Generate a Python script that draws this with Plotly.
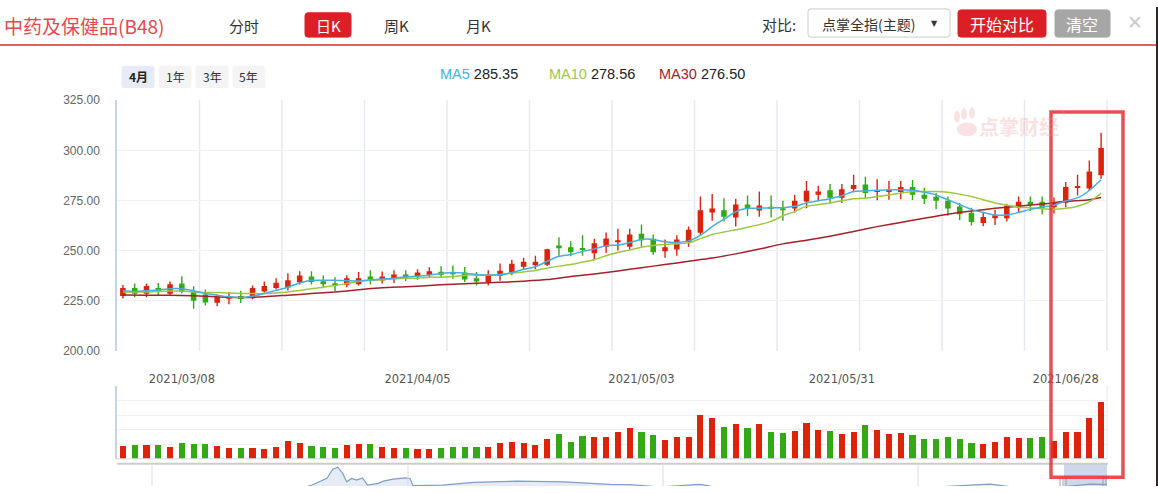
import plotly.graph_objects as go

W, H = 1158, 493
def X(px): return px / W
def Y(py): return 1 - py / H

RED = "#dd2309"
GREEN = "#33aa14"
C_MA5 = "#45b0dc"
C_MA10 = "#9cc843"
C_MA30 = "#a3222a"

dates = [
    "2021-03-01","2021-03-02","2021-03-03","2021-03-04","2021-03-05",
    "2021-03-08","2021-03-09","2021-03-10","2021-03-11","2021-03-12",
    "2021-03-15","2021-03-16","2021-03-17","2021-03-18","2021-03-19",
    "2021-03-22","2021-03-23","2021-03-24","2021-03-25","2021-03-26",
    "2021-03-29","2021-03-30","2021-03-31",
    "2021-04-01","2021-04-02","2021-04-06","2021-04-07","2021-04-08","2021-04-09",
    "2021-04-12","2021-04-13","2021-04-14","2021-04-15","2021-04-16",
    "2021-04-19","2021-04-20","2021-04-21","2021-04-22","2021-04-23",
    "2021-04-26","2021-04-27","2021-04-28","2021-04-29","2021-04-30",
    "2021-05-06","2021-05-07","2021-05-10","2021-05-11","2021-05-12","2021-05-13","2021-05-14",
    "2021-05-17","2021-05-18","2021-05-19","2021-05-20","2021-05-21",
    "2021-05-24","2021-05-25","2021-05-26","2021-05-27","2021-05-28","2021-05-31",
    "2021-06-01","2021-06-02","2021-06-03","2021-06-04",
    "2021-06-07","2021-06-08","2021-06-09","2021-06-10","2021-06-11",
    "2021-06-15","2021-06-16","2021-06-17","2021-06-18",
    "2021-06-21","2021-06-22","2021-06-23","2021-06-24","2021-06-25",
    "2021-06-28","2021-06-29","2021-06-30","2021-07-01",
]

open_ = [227.8, 231.0, 228.9, 231.0, 228.9, 233.3, 229.4, 227.8, 224.4, 226.4,
         227.0, 227.0, 230.0, 231.7, 232.0, 234.6, 236.8, 234.4, 233.4, 233.4,
         233.6, 236.8, 235.5, 236.5, 237.8, 237.5, 238.3, 239.2, 239.0, 238.8,
         235.9, 234.6, 237.8, 239.4, 242.3, 243.1, 243.3, 252.2, 251.4, 251.0,
         249.1, 252.3, 254.6, 252.3, 258.1, 255.6, 250.1, 250.9, 254.7, 259.3,
         269.4, 269.8, 266.9, 272.7, 270.4, 271.5, 270.8, 271.4, 274.9, 278.2,
         279.8, 276.7, 281.1, 282.7, 279.6, 279.6, 279.6, 281.4, 277.5, 276.5,
         274.6, 271.7, 268.6, 264.1, 266.5, 266.5, 271.9, 274.1, 274.0, 272.0,
         274.3, 281.6, 281.4, 287.9]
high = [232.9, 233.6, 233.6, 233.9, 234.6, 237.3, 232.3, 230.7, 228.1, 229.4,
        230.0, 232.6, 234.6, 236.3, 238.8, 239.7, 239.7, 237.8, 236.8, 237.8,
        239.4, 240.2, 239.6, 240.2, 240.2, 240.7, 241.7, 242.2, 242.6, 241.8,
        239.4, 240.2, 243.6, 245.5, 246.5, 247.5, 250.9, 256.7, 254.7, 257.7,
        256.0, 259.1, 260.9, 260.9, 263.0, 258.1, 255.6, 257.7, 262.0, 277.0,
        278.2, 276.2, 275.9, 277.5, 279.5, 277.5, 274.9, 277.8, 284.8, 282.4,
        283.3, 283.3, 287.9, 286.9, 285.6, 284.8, 284.8, 285.3, 281.4, 278.7,
        277.0, 273.8, 271.4, 269.4, 270.3, 273.3, 277.0, 277.0, 277.0, 276.5,
        284.3, 287.9, 295.0, 308.8]
low = [226.2, 226.8, 226.8, 227.8, 227.8, 228.6, 221.0, 222.6, 222.3, 223.3,
       223.9, 225.8, 229.1, 230.7, 230.2, 233.1, 233.1, 231.3, 229.7, 231.8,
       232.6, 233.1, 233.6, 233.9, 234.9, 235.5, 236.5, 236.5, 236.0, 234.4,
       232.6, 232.6, 235.0, 237.8, 240.4, 240.7, 242.3, 247.5, 247.2, 247.5,
       245.2, 248.8, 250.1, 250.4, 252.0, 248.0, 246.5, 247.5, 252.0, 257.7,
       264.9, 264.6, 262.0, 267.3, 266.9, 266.5, 264.9, 269.0, 271.1, 274.6,
       273.5, 273.8, 279.1, 276.2, 275.1, 275.4, 275.7, 275.3, 273.3, 270.6,
       267.4, 265.2, 262.6, 262.2, 262.8, 264.6, 269.3, 269.8, 268.2, 268.5,
       271.7, 277.5, 279.8, 285.9]
close = [231.0, 228.9, 232.0, 229.9, 232.9, 229.7, 225.4, 224.5, 226.6, 226.7,
         226.3, 231.0, 232.0, 233.6, 234.9, 237.3, 234.7, 233.6, 232.8, 235.9,
         235.9, 235.9, 236.8, 237.8, 237.0, 238.8, 239.4, 238.3, 238.6, 236.0,
         235.0, 237.8, 239.7, 243.1, 244.1, 244.1, 250.4, 251.6, 249.6, 250.7,
         253.3, 255.7, 254.9, 257.7, 255.6, 249.6, 251.4, 255.2, 260.1, 269.8,
         270.7, 267.3, 272.7, 271.1, 272.2, 271.2, 270.5, 274.6, 279.5, 279.1,
         276.7, 280.3, 282.4, 279.1, 279.8, 280.1, 281.4, 278.2, 276.2, 275.3,
         271.4, 268.5, 264.6, 266.5, 267.3, 272.0, 274.1, 273.3, 271.7, 273.8,
         281.4, 281.9, 289.1, 300.8]

volume = [0.89, 0.95, 0.95, 0.95, 0.82, 1.09, 1.02, 1.02, 0.89, 0.75,
          0.75, 0.75, 0.69, 0.82, 1.22, 1.09, 0.89, 0.82, 0.75, 0.95,
          1.02, 1.02, 0.82, 0.75, 0.75, 0.69, 0.69, 0.75, 0.82, 0.82,
          0.82, 0.82, 1.09, 1.15, 1.09, 0.95, 1.35, 1.69, 1.15, 1.55,
          1.49, 1.49, 1.82, 2.09, 1.82, 1.62, 1.27, 1.53, 1.47, 3.00,
          2.80, 2.20, 2.40, 2.13, 2.40, 1.87, 1.80, 1.93, 2.47, 2.00,
          1.93, 1.73, 1.87, 2.33, 2.00, 1.73, 1.80, 1.67, 1.33, 1.33,
          1.47, 1.33, 1.07, 1.00, 1.13, 1.47, 1.40, 1.40, 1.47, 1.20,
          1.87, 1.87, 2.80, 3.87]

ma5 = [230.0, 229.7, 230.0, 230.4, 231.0, 231.0, 230.0, 228.6, 227.8, 227.0,
       226.6, 227.3, 228.6, 230.2, 231.8, 233.9, 235.2, 235.2, 235.2, 235.0,
       234.9, 235.4, 235.9, 236.3, 237.0, 237.3, 237.8, 238.6, 239.1, 238.8,
       238.1, 237.8, 238.0, 239.1, 240.7, 242.0, 244.7, 247.2, 248.1, 249.6,
       250.9, 252.5, 252.8, 254.1, 255.6, 255.6, 254.4, 254.1, 254.9, 257.7,
       262.0, 265.7, 269.4, 271.1, 271.2, 271.4, 271.4, 272.1, 273.8, 274.9,
       275.9, 277.4, 279.5, 279.8, 280.1, 280.4, 280.4, 280.1, 279.1, 277.8,
       275.4, 273.0, 270.6, 269.0, 267.8, 267.8, 269.0, 270.6, 271.7, 272.7,
       274.8, 276.3, 280.0, 285.35]
ma10 = [229.4, 229.4, 229.4, 229.7, 229.9, 229.9, 229.4, 229.1, 229.1, 228.9,
        228.7, 228.6, 228.6, 228.9, 229.4, 230.2, 231.0, 231.8, 232.6, 233.6,
        234.6, 235.2, 235.5, 235.9, 236.2, 236.3, 236.8, 236.8, 237.1, 237.8,
        237.8, 237.8, 238.1, 238.8, 239.4, 240.1, 241.3, 242.3, 243.1, 244.3,
        245.5, 247.5, 249.1, 250.4, 251.7, 252.6, 253.1, 253.5, 253.9, 256.0,
        258.1, 259.3, 260.4, 261.7, 263.0, 264.6, 267.4, 269.5, 272.2, 273.0,
        273.8, 274.9, 275.9, 276.2, 277.0, 277.8, 278.7, 279.5, 279.5, 279.5,
        279.1, 278.2, 277.0, 275.4, 273.8, 272.7, 271.7, 271.4, 270.9, 270.6,
        271.1, 272.2, 274.3, 278.56]
ma30 = [227.9, None, 227.8, None, 227.8, None, 227.5, None, 227.0, None,
        226.6, None, 227.0, None, 227.8, None, 228.6, None, 229.4, None,
        230.5, None, 231.5, None, 232.0, None, 232.6, None, 233.3, None,
        233.8, None, 234.2, None, 234.8, None, 235.6, None, 237.1, None,
        238.4, None, 239.9, None, 241.5, None, 243.1, None, 244.7, None,
        246.3, None, 248.4, None, 250.8, None, 253.4, None, 255.2, None,
        257.2, None, 259.6, None, 262.0, None, 264.1, None, 266.2, None,
        268.2, None, 269.8, None, 271.1, None, 272.2, None, 273.3, None,
        274.6, None, 275.4, 276.5]

ma_labels = ["MA5", "MA10", "MA30"]
ma_last = ["285.35", "278.56", "276.50"]

tick_dates = ["2021-03-08", "2021-04-06", "2021-05-06", "2021-05-31", "2021-06-28"]
tick_text = ["2021/03/08", "2021/04/05", "2021/05/03", "2021/05/31", "2021/06/28"]

# navigator (long history overview), position 0-100 along the slider, height value
nav_t = [0, 8.4, 18.5, 19.7, 20.5, 21.2, 21.8, 22.3, 22.8, 23.2, 23.7, 24.2, 24.8,
         25.3, 26.4, 26.9, 27.9, 29.1, 29.6, 29.9, 32.9, 36.0, 40.4, 45.1, 49.8,
         51.8, 54.8, 58.9, 60.9, 69.0, 79.1, 88.2, 91.2, 95.3, 98.3, 100]
nav_v = [-4, -4, -3, 1, 4.3, 8, 17.3, 19.3, 13, 4.3, 7.7, 6, 8.3,
         1, 2.7, 5, 7, 8.3, 7.7, 0.3, 1, 3.7, 5, 4.3, 1.7,
         1.5, -1, 1.7, -2, -3, -3, 2, -2, -1, 2, 1.5]

vol_colors = [RED if c >= o else GREEN for o, c in zip(open_, close)]

XD = [X(117), X(1107)]
CJK = "Noto Sans CJK SC"
LAT = "Liberation Sans"

fig = go.Figure()

fig.add_trace(go.Candlestick(
    x=dates, open=open_, high=high, low=low, close=close,
    increasing=dict(line=dict(color=RED, width=1.4), fillcolor=RED),
    decreasing=dict(line=dict(color=GREEN, width=1.4), fillcolor=GREEN),
    whiskerwidth=0, xaxis="x", yaxis="y", hoverinfo="skip",
))
for vals, col in [(ma30, C_MA30), (ma10, C_MA10), (ma5, C_MA5)]:
    fig.add_trace(go.Scatter(
        x=dates, y=vals, mode="lines", connectgaps=True,
        line=dict(color=col, width=1.5, shape="spline", smoothing=0.6),
        xaxis="x", yaxis="y", hoverinfo="skip",
    ))
fig.add_trace(go.Bar(
    x=dates, y=volume, marker=dict(color=vol_colors, line=dict(width=0)),
    width=0.52, xaxis="x2", yaxis="y2", hoverinfo="skip",
))
fig.add_trace(go.Scatter(
    x=nav_t, y=nav_v, mode="lines", fill="tozeroy",
    fillcolor="rgba(220,228,242,0.7)", line=dict(color="#7f9dc8", width=1.2),
    xaxis="x3", yaxis="y3", hoverinfo="skip",
))

shapes = []
# price panel vertical grid (12 divisions)
for k in range(1, 13):
    shapes.append(dict(type="line", xref="x domain", yref="y domain",
                       x0=k / 12, x1=k / 12, y0=0, y1=1,
                       line=dict(color="#e5eaf2", width=1.5), layer="below"))
# volume panel borders
shapes.append(dict(type="line", xref="paper", yref="paper", x0=X(117), x1=X(1107),
                   y0=Y(465), y1=Y(465), line=dict(color="#d3dbea", width=1)))
shapes.append(dict(type="line", xref="paper", yref="paper", x0=X(1107), x1=X(1107),
                   y0=Y(389), y1=Y(465), line=dict(color="#e3e8f0", width=1)))
# navigator
shapes.append(dict(type="rect", xref="paper", yref="paper", x0=X(1064), x1=X(1107),
                   y0=Y(493), y1=Y(470), fillcolor="#cfd8ea", line=dict(width=0),
                   layer="below"))
shapes.append(dict(type="line", xref="paper", yref="paper", x0=X(117), x1=X(1108),
                   y0=Y(470), y1=Y(470), line=dict(color="#cccccc", width=2)))
for px in [152, 408, 663, 918]:
    shapes.append(dict(type="line", xref="paper", yref="paper", x0=X(px), x1=X(px),
                       y0=Y(493), y1=Y(471), line=dict(color="#dddddd", width=1)))
for px in [1060, 1063, 1066, 1103, 1106]:
    shapes.append(dict(type="line", xref="paper", yref="paper", x0=X(px), x1=X(px),
                       y0=Y(493), y1=Y(484), line=dict(color="#a0a0a0", width=1)))
# header
shapes.append(dict(type="line", xref="paper", yref="paper", x0=0, x1=1,
                   y0=Y(39), y1=Y(39), line=dict(color="#d9272d", width=1.5)))

def rrect(x0, y0, x1, y1, fill, line_color=None, r=3):
    path = (f"M {X(x0+r)} {Y(y0)} L {X(x1-r)} {Y(y0)} Q {X(x1)} {Y(y0)} {X(x1)} {Y(y0+r)} "
            f"L {X(x1)} {Y(y1-r)} Q {X(x1)} {Y(y1)} {X(x1-r)} {Y(y1)} "
            f"L {X(x0+r)} {Y(y1)} Q {X(x0)} {Y(y1)} {X(x0)} {Y(y1-r)} "
            f"L {X(x0)} {Y(y0+r)} Q {X(x0)} {Y(y0)} {X(x0+r)} {Y(y0)} Z")
    return dict(type="path", xref="paper", yref="paper", path=path, fillcolor=fill,
                line=dict(color=line_color or fill, width=1))

shapes.append(rrect(305, 6, 351, 31, "#dc1f26"))
shapes.append(rrect(808, 2, 950, 31, "#ffffff", "#cccccc"))
shapes.append(rrect(958, 3, 1046, 31, "#dc1f26"))
shapes.append(rrect(1055, 3, 1110, 31, "#a6a6a6"))
shapes.append(rrect(122, 61, 154, 83, "#e6ebf5", r=2))
for x0 in [159, 196, 233]:
    shapes.append(rrect(x0, 61, x0 + 32, 83, "#f4f4f4", r=2))
# watermark logo blobs
for (cx, cy, rx, ry) in [(957, 113, 3, 6), (964, 110, 3, 6), (972, 109, 3, 6),
                         (967, 126, 10, 7)]:
    shapes.append(dict(type="circle", xref="paper", yref="paper",
                       x0=X(cx - rx), x1=X(cx + rx), y0=Y(cy + ry), y1=Y(cy - ry),
                       fillcolor="rgba(236,150,150,0.28)", line=dict(width=0)))
# highlight frame
shapes.append(dict(type="rect", xref="paper", yref="paper", x0=X(1051), x1=X(1123),
                   y0=Y(484), y1=Y(108), line=dict(color="rgba(232,52,58,0.88)", width=3.5)))
# right dark edge
shapes.append(dict(type="rect", xref="paper", yref="paper", x0=X(1156), x1=1,
                   y0=0, y1=1, fillcolor="#2e2424", line=dict(width=0)))

ann = []
def txt(x, y, s, size, color, family=CJK, anchor="center", bold=False):
    if bold:
        s = f"<b>{s}</b>"
    ann.append(dict(x=X(x), y=Y(y), xref="paper", yref="paper", text=s, showarrow=False,
                    xanchor=anchor, yanchor="middle",
                    font=dict(size=size, color=color, family=family)))

txt(2, 19, "中药及保健品(B48)", 19, "#e8474c", anchor="left")
txt(244, 19, "分时", 15, "#333333")
txt(328, 19, "日K", 15, "#ffffff")
txt(396, 19, "周K", 15, "#333333")
txt(478, 19, "月K", 15, "#333333")
txt(779, 18, "对比:", 15, "#333333")
txt(868, 17, "点掌全指(主题)", 14, "#333333")
txt(934, 17, "▼", 8, "#333333", family="DejaVu Sans")
txt(1002, 17, "开始对比", 16, "#ffffff")
txt(1082, 17, "清空", 16, "#ffffff")
txt(1135, 15, "✕", 19, "#cccccc", family="DejaVu Sans")
txt(138, 72, "4月", 12, "#222222", bold=True)
txt(175, 72, "1年", 12, "#333333")
txt(212, 72, "3年", 12, "#333333")
txt(249, 72, "5年", 12, "#333333")
for lab, val, col, x0 in zip(ma_labels, ma_last, [C_MA5, C_MA10, C_MA30], [438, 547, 657]):
    ann.append(dict(x=X(x0), y=Y(69), xref="paper", yref="paper", showarrow=False,
                    xanchor="left", yanchor="middle",
                    text=f"<span style='color:{col}'>{lab}</span> {val}",
                    font=dict(size=14.5, color="#222222", family=LAT)))
txt(1019, 123, "<b>点掌财经</b>", 20, "rgba(236,150,150,0.30)")
txt(1064, 110, "®", 7, "rgba(236,150,150,0.45)", family=LAT)

fig.update_layout(
    width=W, height=H, autosize=False,
    margin=dict(l=0, r=0, t=0, b=0),
    paper_bgcolor="white", plot_bgcolor="white",
    showlegend=False, boxgap=0.5, bargap=0,
    xaxis=dict(domain=XD, anchor="y", type="category", range=[-0.5, 83.5],
               showticklabels=False, showgrid=False, zeroline=False,
               rangeslider=dict(visible=False), fixedrange=True),
    yaxis=dict(domain=[Y(354), Y(96)], anchor="x", range=[200, 325], dtick=25,
               tick0=200, tickformat=".2f", gridcolor="#f0f2f5", zeroline=False,
               showline=True, linecolor="#c5d4ea", linewidth=1.5, ticks="",
               ticklabelstandoff=13,
               tickfont=dict(size=12, color="#666666", family=LAT)),
    xaxis2=dict(domain=XD, anchor="y2", type="category", range=[-0.5, 83.5],
                side="top", tickmode="array", tickvals=tick_dates, ticktext=tick_text,
                showgrid=False, zeroline=False, showline=False, ticks="",
                ticklabelstandoff=0,
                tickfont=dict(size=11.5, color="#555555", family="DejaVu Sans")),
    yaxis2=dict(domain=[Y(465), Y(390)], anchor="x2", range=[0, 5], dtick=1,
                showticklabels=False, gridcolor="#f0f2f5", zeroline=False,
                showline=True, linecolor="#c5d4ea", linewidth=1.5, ticks=""),
    xaxis3=dict(domain=XD, anchor="y3", range=[0, 100], visible=False),
    yaxis3=dict(domain=[0, Y(470)], anchor="x3", range=[0, 23], visible=False),
    shapes=shapes, annotations=ann,
)

fig.write_html("out.html")
